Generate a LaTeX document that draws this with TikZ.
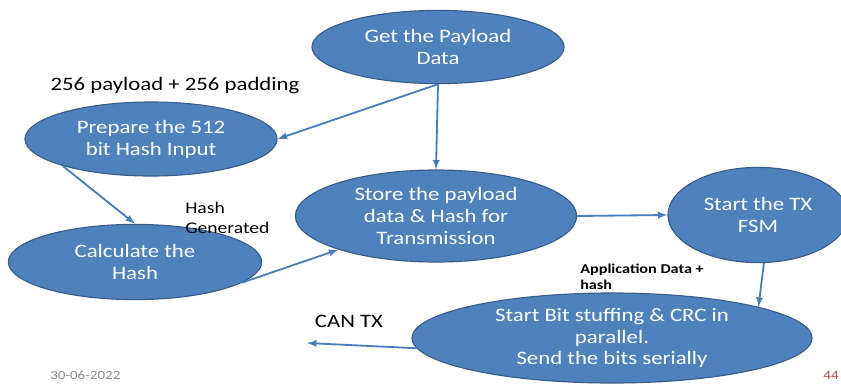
\documentclass[tikz,border=0pt]{standalone}
\usepackage{fontspec}
\setmainfont[FakeStretch=1.2]{Carlito}
\usepackage{tikz}
\usetikzlibrary{shapes,arrows,positioning,calc}
\usepackage{xcolor}
\definecolor{nodeblue}{HTML}{4F81BD}
\definecolor{nodeedge}{HTML}{385D8A}
\definecolor{linkblue}{HTML}{4A7EBB}
\definecolor{dategray}{HTML}{8C8C8C}
\definecolor{pagered}{HTML}{C0504D}

\begin{document}
\begin{tikzpicture}[x=0.025cm,y=-0.025cm,
        state/.style={ellipse,draw=nodeedge,line width=0.8pt,fill=nodeblue,text=white,
            align=center,inner sep=0pt,font=\fontsize{13.5}{15.6}\selectfont},
        link/.style={->,>=latex,draw=linkblue,line width=1.3pt},
        lbl/.style={black,align=left,inner sep=0pt}]
            \useasboundingbox (0,0) rectangle (841,383);
            \clip (0,0) rectangle (841,383);

            % States
            \node[state,minimum width=6.3cm,minimum height=1.83cm] (get) at (438,47) {Get the Payload\\Data};
            \node[state,minimum width=6.3cm,minimum height=1.85cm] (prep) at (151,139) {Prepare the 512\\bit Hash Input};
            \node[state,minimum width=6.33cm,minimum height=1.88cm] (calc) at (135,262) {Calculate the\\Hash};
            \node[state,minimum width=7.03cm,minimum height=2.3cm] (store) at (436,216) {Store the payload\\data \& Hash for\\Transmission};
            \node[state,minimum width=4.5cm,minimum height=2.38cm] (tx) at (758,215) {Start the TX\\FSM};
            \node[state,minimum width=10cm,minimum height=2.25cm] (bit) at (612,338) {Start Bit stuffing \& CRC in\\parallel.\\Send the bits serially};

            % Labels
            \node[lbl,font=\fontsize{13.5}{15.6}\selectfont] (pad) at (175,86) {256 payload + 256 padding};
            \node[lbl,anchor=north west,font=\fontsize{11.6}{14}\selectfont] (gen) at (185,202) {Hash\\Generated};
            \node[lbl,anchor=north west,font=\fontsize{9.6}{11.3}\selectfont\bfseries] (app) at (580,264) {Application Data +\\hash};
            \node[lbl,font=\fontsize{13.5}{15.6}\selectfont] (can) at (349,321) {CAN TX};
            \node[lbl,anchor=north west,text=dategray,font=\fontsize{8.9}{10}\selectfont] (date) at (50,371) {30-06-2022};
            \node[lbl,anchor=north east,text=pagered,font=\fontsize{9}{10}\selectfont] (page) at (839,371) {44};

            % Links
            \draw[link] (get.south) -- (prep.east);
            \draw[link] (get.south) -- (store.north);
            \draw[link] (prep.197) -- (calc.north);
            \draw[link] (calc.349) -- (store.199);
            \draw[link] (store.east) -- (tx.west);
            \draw[link] (tx.277) -- (bit.12);
            \coordinate (cantx) at (307,343);
            \draw[link] (bit.183) -- (cantx);
\end{tikzpicture}
\end{document}
